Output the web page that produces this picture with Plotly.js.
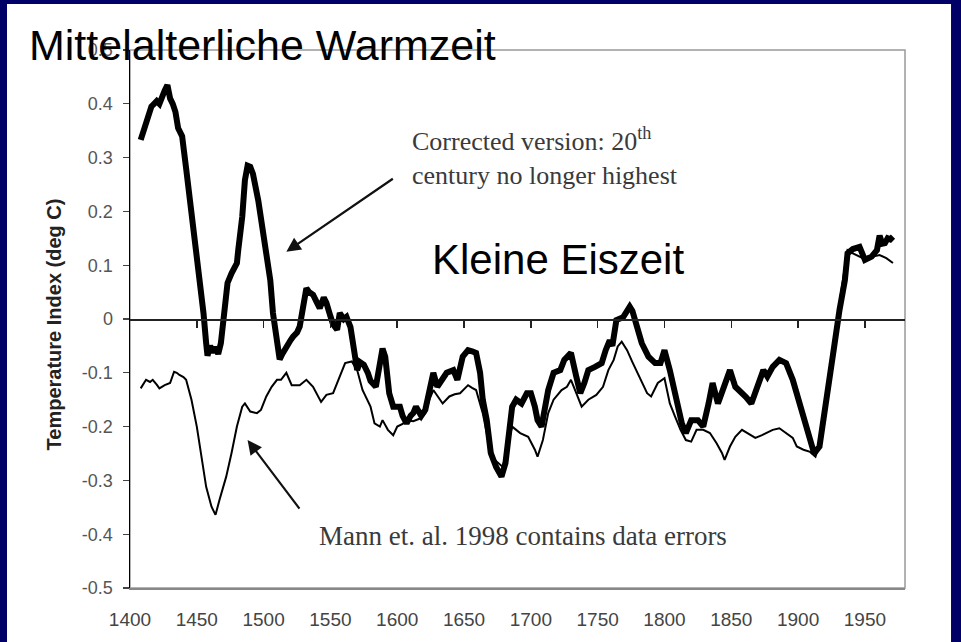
<!DOCTYPE html>
<html>
<head>
<meta charset="utf-8">
<script src="https://cdn.plot.ly/plotly-3.0.1.min.js"></script>
<style>html,body{margin:0;padding:0;background:#000066;}#chart{width:961px;height:642px;}</style>
</head>
<body>
<div id="chart"></div>
<script>
// Corrected version (thick line)
const correctedYears = [1408,1411,1414,1416,1418,1420,1422,1424,1426,1428,1430,1432,1434,1436,1439,1442,1445,1449,1452,1455,1457,1458,1460,1462,1464,1466,1468,1471,1473,1476,1480,1481,1484,1486,1488,1490,1492,1496,1499,1502,1505,1507,1510,1512,1514,1517,1520,1522,1525,1527,1530,1532,1534,1537,1540,1542,1545,1547,1550,1552,1555,1557,1560,1562,1565,1567,1570,1572,1575,1578,1580,1584,1586,1589,1591,1594,1597,1602,1604,1607,1610,1612,1614,1618,1621,1624,1627,1630,1634,1637,1642,1645,1649,1653,1656,1659,1662,1664,1667,1670,1674,1678,1681,1683,1686,1689,1693,1697,1700,1703,1705,1708,1710,1713,1717,1722,1725,1730,1734,1737,1740,1743,1748,1753,1756,1759,1761,1764,1769,1774,1776,1779,1783,1788,1793,1797,1800,1804,1809,1813,1816,1820,1825,1829,1833,1836,1840,1845,1849,1853,1856,1861,1865,1869,1874,1877,1881,1886,1891,1896,1901,1905,1909,1912,1916,1920,1924,1927,1931,1935,1937,1941,1946,1950,1955,1959,1961,1963,1965,1967,1969,1971];
const correctedValues = [0.333,0.36,0.385,0.395,0.40,0.405,0.40,0.415,0.425,0.435,0.41,0.40,0.385,0.355,0.34,0.28,0.22,0.147,0.072,0.011,-0.045,-0.068,-0.05,-0.062,-0.052,-0.065,-0.045,0.011,0.067,0.085,0.104,0.128,0.19,0.258,0.285,0.283,0.27,0.22,0.17,0.116,0.072,0.011,-0.045,-0.075,-0.065,-0.05,-0.04,-0.033,-0.025,-0.014,0.035,0.057,0.05,0.045,0.03,0.02,0.04,0.03,0.005,-0.01,-0.02,0.011,0.0,0.004,-0.015,-0.045,-0.095,-0.08,-0.085,-0.10,-0.115,-0.126,-0.09,-0.055,-0.07,-0.138,-0.163,-0.163,-0.18,-0.194,-0.18,-0.175,-0.163,-0.18,-0.169,-0.132,-0.1,-0.126,-0.113,-0.1,-0.095,-0.113,-0.07,-0.058,-0.06,-0.063,-0.1,-0.15,-0.188,-0.249,-0.275,-0.293,-0.268,-0.225,-0.163,-0.15,-0.157,-0.138,-0.138,-0.163,-0.188,-0.2,-0.175,-0.132,-0.1,-0.095,-0.076,-0.063,-0.107,-0.138,-0.119,-0.095,-0.089,-0.082,-0.058,-0.04,-0.05,-0.002,0.003,0.023,0.015,-0.008,-0.045,-0.07,-0.082,-0.082,-0.058,-0.095,-0.157,-0.194,-0.212,-0.188,-0.188,-0.2,-0.157,-0.119,-0.157,-0.119,-0.095,-0.126,-0.132,-0.145,-0.157,-0.132,-0.095,-0.107,-0.089,-0.076,-0.082,-0.113,-0.157,-0.194,-0.23,-0.25,-0.237,-0.175,-0.113,-0.051,0.017,0.072,0.122,0.13,0.134,0.11,0.116,0.128,0.155,0.14,0.141,0.15,0.148,0.153];

// Mann et al. 1998 (thin line)
const mannYears = [1408,1410,1412,1415,1417,1420,1422,1426,1430,1433,1435,1437,1440,1442,1446,1450,1454,1457,1461,1464,1467,1472,1476,1480,1484,1486,1490,1495,1498,1502,1506,1510,1513,1517,1521,1527,1532,1537,1543,1547,1552,1556,1561,1566,1570,1574,1580,1583,1587,1589,1593,1597,1600,1604,1607,1612,1617,1621,1624,1627,1631,1634,1639,1643,1647,1653,1656,1659,1664,1668,1673,1679,1682,1686,1692,1698,1703,1705,1709,1713,1717,1723,1727,1730,1734,1738,1743,1749,1754,1758,1762,1765,1768,1772,1776,1782,1787,1790,1795,1800,1804,1808,1812,1816,1820,1824,1829,1834,1839,1843,1845,1849,1853,1858,1862,1868,1873,1876,1881,1886,1891,1896,1899,1904,1909,1913,1916,1920,1924,1928,1931,1935,1937,1941,1946,1951,1956,1961,1966,1971];
const mannValues = [-0.129,-0.12,-0.113,-0.117,-0.113,-0.122,-0.129,-0.123,-0.119,-0.098,-0.1,-0.104,-0.108,-0.113,-0.15,-0.2,-0.262,-0.312,-0.349,-0.364,-0.336,-0.293,-0.249,-0.2,-0.163,-0.157,-0.172,-0.175,-0.169,-0.144,-0.126,-0.113,-0.113,-0.1,-0.123,-0.123,-0.113,-0.126,-0.154,-0.141,-0.138,-0.113,-0.082,-0.079,-0.095,-0.132,-0.163,-0.194,-0.2,-0.188,-0.206,-0.216,-0.2,-0.195,-0.188,-0.19,-0.185,-0.175,-0.15,-0.132,-0.145,-0.157,-0.144,-0.14,-0.138,-0.123,-0.128,-0.132,-0.175,-0.225,-0.262,-0.275,-0.24,-0.2,-0.212,-0.219,-0.243,-0.256,-0.225,-0.175,-0.15,-0.132,-0.126,-0.113,-0.138,-0.163,-0.15,-0.141,-0.126,-0.095,-0.076,-0.051,-0.042,-0.058,-0.08,-0.11,-0.138,-0.144,-0.119,-0.11,-0.157,-0.182,-0.206,-0.225,-0.228,-0.206,-0.206,-0.212,-0.231,-0.249,-0.262,-0.237,-0.219,-0.206,-0.212,-0.221,-0.216,-0.212,-0.206,-0.203,-0.212,-0.221,-0.237,-0.243,-0.247,-0.256,-0.231,-0.169,-0.1,-0.033,0.03,0.097,0.128,0.122,0.116,0.11,0.116,0.119,0.113,0.104];

const xTickVals = [1400,1450,1500,1550,1600,1650,1700,1750,1800,1850,1900,1950];
const xTickText = ['1400','1450','1500','1550','1600','1650','1700','1750','1800','1850','1900','1950'];
const zeroTickVals = [1450,1500,1550,1600,1650,1700,1750,1800,1850,1900,1950];
const yTickVals = [0.5,0.4,0.3,0.2,0.1,0,-0.1,-0.2,-0.3,-0.4,-0.5];
const yTickText = ['0.5','0.4','0.3','0.2','0.1','0','-0.1','-0.2','-0.3','-0.4','-0.5'];

const titleText = 'Mittelalterliche Warmzeit';
const coldText = 'Kleine Eiszeit';
const yTitleText = 'Temperature Index (deg C)';
const correctedNote = 'Corrected version: 20<sup>th</sup><br>century no longer highest';
const mannNote = 'Mann et. al. 1998 contains data errors';
const correctedArrowHead = {x: 1517, y: 0.125};
const mannArrowHead = {x: 1488, y: -0.225};

const sans = 'Liberation Sans, Arial, sans-serif';
const serif = 'Liberation Serif, Times New Roman, serif';

const traces = [
  {x: mannYears, y: mannValues, xaxis: 'x2', yaxis: 'y', mode: 'lines',
   line: {color: '#000', width: 2}, hoverinfo: 'skip'},
  {x: correctedYears, y: correctedValues, xaxis: 'x', yaxis: 'y', mode: 'lines',
   line: {color: '#000', width: 6}, hoverinfo: 'skip'}
];

const layout = {
  width: 961, height: 642,
  margin: {l: 130, r: 56, t: 50, b: 54},
  paper_bgcolor: '#000066',
  plot_bgcolor: '#ffffff',
  showlegend: false,
  font: {family: sans},
  xaxis: {
    range: [1400, 1980], tickmode: 'array', tickvals: xTickVals, ticktext: xTickText,
    showgrid: false, zeroline: false, showline: true, linecolor: '#888', linewidth: 1.5,
    ticks: '', ticklabelstandoff: 14,
    tickfont: {family: sans, size: 19, color: '#444'}
  },
  xaxis2: {
    range: [1400, 1980], overlaying: 'x', anchor: 'free', position: 0.5, side: 'bottom',
    tickmode: 'array', tickvals: zeroTickVals, showticklabels: false,
    showgrid: false, zeroline: false, showline: true, linecolor: '#222', linewidth: 1.5,
    ticks: 'outside', ticklen: 7, tickwidth: 1.5, tickcolor: '#222'
  },
  yaxis: {
    range: [-0.5, 0.5], tickmode: 'array', tickvals: yTickVals, ticktext: yTickText,
    showgrid: false, zeroline: false, showline: true, linecolor: '#000', linewidth: 1.5,
    ticks: 'outside', ticklen: 6, tickwidth: 1.2, tickcolor: '#444', ticklabelstandoff: 6,
    tickfont: {family: sans, size: 18, color: '#555'}
  },
  shapes: [
    {type: 'rect', xref: 'paper', yref: 'paper', x0: -0.1587, x1: 1.0594, y0: -0.11, y1: 1.0855,
     fillcolor: '#ffffff', line: {width: 0}, layer: 'below'},
    {type: 'rect', xref: 'paper', yref: 'paper', x0: 0, x1: 1, y0: 0, y1: 1,
     fillcolor: 'rgba(0,0,0,0)', line: {color: '#999', width: 1.5}, layer: 'below'}
  ],
  annotations: [
    {text: titleText, xref: 'paper', yref: 'paper', x: -0.1329, y: 1.0093,
     xanchor: 'left', yanchor: 'middle', showarrow: false,
     font: {family: sans, size: 43, color: '#000'}},
    {text: coldText, xref: 'paper', yref: 'paper', x: 0.387, y: 0.6097,
     xanchor: 'left', yanchor: 'middle', showarrow: false,
     font: {family: sans, size: 42, color: '#000'}},
    {text: yTitleText, xref: 'paper', yref: 'paper', x: -0.098, y: 0.49,
     xanchor: 'center', yanchor: 'middle', textangle: -90, showarrow: false,
     font: {family: sans, size: 20, color: '#222', weight: 'bold'}},
    {text: correctedNote, xref: 'paper', yref: 'paper', x: 0.3613, y: 0.802,
     xanchor: 'left', yanchor: 'middle', align: 'left', showarrow: false,
     font: {family: serif, size: 26, color: '#3a3a3a'}},
    {text: mannNote, xref: 'paper', yref: 'paper', x: 0.2413, y: 0.0967,
     xanchor: 'left', yanchor: 'middle', showarrow: false,
     font: {family: serif, size: 27, color: '#3a3a3a'}},
    {text: '', x: correctedArrowHead.x, y: correctedArrowHead.y, xref: 'x', yref: 'y',
     showarrow: true, ax: 108, ay: -74, arrowhead: 2, arrowsize: 1.3, arrowwidth: 2.2, arrowcolor: '#111', standoff: 0},
    {text: '', x: mannArrowHead.x, y: mannArrowHead.y, xref: 'x', yref: 'y',
     showarrow: true, ax: 53, ay: 70, arrowhead: 2, arrowsize: 1.3, arrowwidth: 2.2, arrowcolor: '#111', standoff: 0}
  ]
};

Plotly.newPlot('chart', traces, layout, {displayModeBar: false, staticPlot: true});
</script>
</body>
</html>
